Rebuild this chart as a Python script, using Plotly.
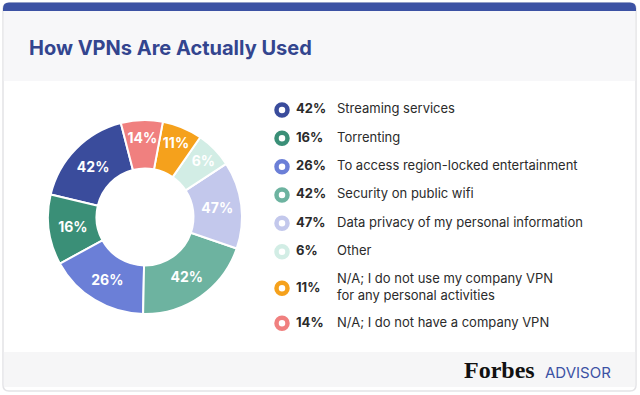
import plotly.graph_objects as go

# ---- data ----
categories = [
    "Streaming services",
    "Torrenting",
    "To access region-locked entertainment",
    "Security on public wifi",
    "Data privacy of my personal information",
    "Other",
    "N/A; I do not use my company VPN<br>for any personal activities",
    "N/A; I do not have a company VPN",
]
percent = [42, 16, 26, 42, 47, 6, 11, 14]
# angular size (degrees) of each slice as drawn in the graphic
arc_degrees = [62, 42, 60, 72, 52, 22, 24, 25]
colors = ["#3a4c9c", "#3a8f77", "#6b7fd7", "#6db3a0", "#c3c8ec", "#d2ede5", "#f5a11c", "#f0807f"]

pct_labels = [f"{p}%" for p in percent]

W, H = 640, 395
FONT = "Inter"
TITLE_BLUE = "#33458f"
TEXT = "#2b2b2b"

fig = go.Figure()

# donut
cx, cy, R = 145, 217, 97
fig.add_trace(go.Pie(
    values=arc_degrees,
    labels=categories,
    text=pct_labels,
    textinfo="text",
    texttemplate="%{text}",
    textposition="inside",
    insidetextorientation="horizontal",
    textfont=dict(family=FONT, size=14, color="white", weight="bold"),
    marker=dict(colors=colors, line=dict(color="white", width=2)),
    hole=0.5,
    sort=False,
    direction="counterclockwise",
    rotation=-76.6,
    showlegend=False,
    hoverinfo="skip",
    domain=dict(x=[(cx - R) / W, (cx + R) / W], y=[(H - cy - R) / H, (H - cy + R) / H]),
))

# legend rows (pixel layout)
row_y = [110, 138.3, 166.7, 195, 223.3, 251.7, 288.3, 323.3]
ring_x = [282] * len(categories)
fig.add_trace(go.Scatter(
    x=ring_x, y=row_y, mode="markers",
    marker=dict(symbol="circle-open", size=11, color=colors, line=dict(width=4.5, color=colors)),
    showlegend=False, hoverinfo="skip", xaxis="x", yaxis="y",
))
fig.add_trace(go.Scatter(
    x=[296] * len(categories), y=row_y, mode="text", text=pct_labels,
    textposition="middle right",
    textfont=dict(family=FONT, size=13, color=TEXT, weight="bold"),
    showlegend=False, hoverinfo="skip",
))
fig.add_trace(go.Scatter(
    x=[337] * len(categories), y=row_y, mode="text", text=categories,
    textposition="middle right",
    textfont=dict(family=FONT, size=13, color=TEXT),
    showlegend=False, hoverinfo="skip",
))

shapes = [
    # card (rounded)
    dict(type="path", xref="x", yref="y",
         path="M 9 3 L 630 3 Q 636 3 636 9 L 636 385 Q 636 391 630 391 L 9 391 Q 3 391 3 385 L 3 9 Q 3 3 9 3 Z",
         fillcolor="white", line=dict(color="#e3e3e6", width=1.5), layer="below"),
    # header band
    dict(type="rect", xref="x", yref="y", x0=3.8, x1=635.2, y0=10, y1=81,
         fillcolor="#f7f7f9", line=dict(width=0), layer="below"),
    # top blue bar (rounded top corners)
    dict(type="path", xref="x", yref="y",
         path="M 3 11 L 3 8.5 Q 3 2.5 9 2.5 L 630 2.5 Q 636 2.5 636 8.5 L 636 11 Z",
         fillcolor="#3c52a4", line=dict(width=0), layer="below"),
    # footer band
    dict(type="rect", xref="x", yref="y", x0=3.8, x1=635.2, y0=352, y1=387,
         fillcolor="#f6f6f7", line=dict(width=0), layer="below"),
]

annotations = [
    dict(text="<b>How VPNs Are Actually Used</b>", x=27, y=48, xref="x", yref="y",
         xanchor="left", yanchor="middle", showarrow=False,
         font=dict(family=FONT, size=20, color=TITLE_BLUE)),
    dict(text="<b>Forbes</b>", x=537, y=370, xref="x", yref="y",
         xanchor="right", yanchor="middle", showarrow=False,
         font=dict(family="Liberation Serif", size=24, color="#111111")),
    dict(text="ADVISOR", x=543, y=372, xref="x", yref="y",
         xanchor="left", yanchor="middle", showarrow=False,
         font=dict(family=FONT, size=15, color="#3c52a4")),
]

fig.update_layout(
    width=W, height=H,
    margin=dict(l=0, r=0, t=0, b=0),
    paper_bgcolor="#ffffff",
    plot_bgcolor="rgba(0,0,0,0)",
    xaxis=dict(range=[0, W], visible=False, fixedrange=True, domain=[0, 1]),
    yaxis=dict(range=[H, 0], visible=False, fixedrange=True, domain=[0, 1]),
    shapes=shapes,
    annotations=annotations,
)

fig.write_html("out.html", config={"displayModeBar": False},
               post_script="document.body.style.margin='0';document.body.style.overflow='hidden';")
